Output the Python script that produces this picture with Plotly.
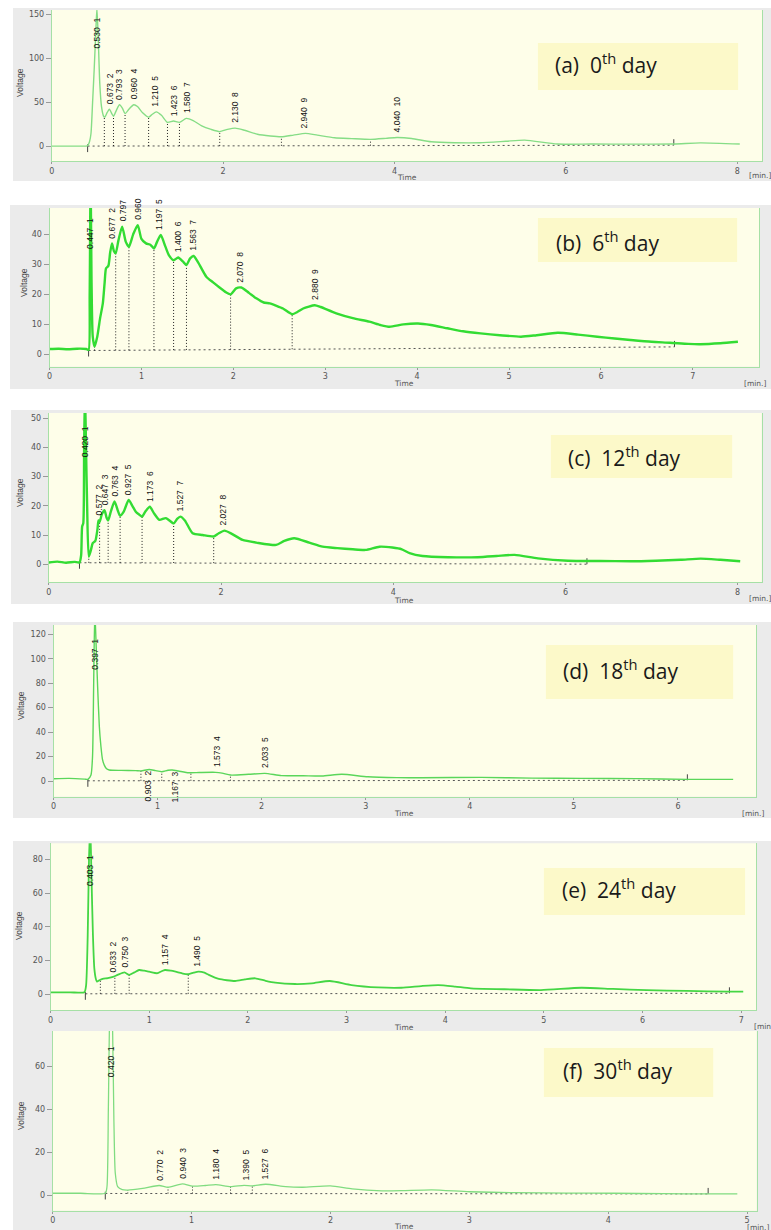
import numpy as np
import plotly.graph_objects as go

W, H = 771, 1230

# ================= DATA =================
# ---- (a) 0th day ----
a_curve = [(0.00, 0.0), (0.20, 0.0), (0.40, 0.0), (0.418, 0.5), (0.44, 5.0), (0.457, 14.0), (0.477, 52.0),
           (0.496, 90.0), (0.516, 136.0), (0.527, 157.0), (0.543, 120.0), (0.560, 71.0), (0.580, 45.0),
           (0.605, 34.0), (0.620, 33.0), (0.645, 38.0), (0.672, 42.0), (0.700, 37.0), (0.720, 34.0),
           (0.755, 41.0), (0.790, 47.0), (0.825, 43.0), (0.855, 37.0), (0.900, 42.0), (0.957, 47.0),
           (1.000, 45.0), (1.060, 38.0), (1.130, 33.0), (1.170, 36.0), (1.220, 39.0), (1.280, 35.0),
           (1.350, 27.0), (1.420, 28.5), (1.490, 27.0), (1.570, 31.5), (1.650, 29.0), (1.750, 23.0),
           (1.860, 19.0), (1.960, 16.5), (2.050, 19.0), (2.140, 20.5), (2.250, 18.0), (2.400, 13.5),
           (2.550, 11.5), (2.680, 10.6), (2.820, 12.5), (2.960, 14.5), (3.100, 12.5), (3.300, 9.5),
           (3.500, 8.5), (3.720, 7.6), (3.900, 8.8), (4.030, 9.8), (4.200, 8.7), (4.430, 4.9),
           (4.700, 3.8), (5.000, 3.8), (5.300, 5.5), (5.520, 6.8), (5.900, 2.3), (6.300, 2.3),
           (6.800, 2.2), (7.260, 2.3), (7.570, 3.6), (8.030, 2.3)]
a_valley_time = [0.613, 0.720, 0.855, 1.130, 1.350, 1.490, 1.960, 2.680, 3.720]
a_valley_volt = [33.0, 34.0, 37.0, 33.0, 27.0, 27.0, 16.5, 10.6, 7.6]
a_base_time = [0.418, 7.26]
a_base_volt = [0.0, 1.0]
a_peak_rt = [0.530, 0.673, 0.793, 0.960, 1.210, 1.423, 1.580, 2.130, 2.940, 4.040]
a_peak_volt = [None, 42.0, 47.0, 47.0, 39.0, 28.5, 31.5, 20.5, 14.5, 9.8]
a_peak_label = ["0.530  1", "0.673  2", "0.793  3", "0.960  4", "1.210  5", "1.423  6",
                "1.580  7", "2.130  8", "2.940  9", "4.040  10"]
a_xticks = [0, 2, 4, 6, 8]
a_yticks = [0, 50, 100, 150]

# ---- (b) 6th day ----
b_curve = [(0.00, 1.8), (0.10, 1.9), (0.20, 1.7), (0.30, 1.9), (0.40, 1.8), (0.425, 1.5), (0.437, 20.0),
           (0.447, 60.0), (0.457, 25.0), (0.470, 6.0), (0.490, 2.6), (0.520, 6.0), (0.550, 12.0),
           (0.580, 17.0), (0.600, 24.0), (0.615, 28.7), (0.640, 29.5), (0.660, 34.0), (0.680, 37.0),
           (0.700, 34.5), (0.720, 33.7), (0.750, 38.0), (0.790, 42.6), (0.830, 37.5), (0.864, 35.9),
           (0.910, 40.0), (0.960, 43.1), (1.000, 38.5), (1.050, 37.0), (1.100, 36.5), (1.136, 35.3),
           (1.170, 37.5), (1.210, 39.8), (1.260, 36.0), (1.300, 33.0), (1.350, 31.4), (1.400, 32.3),
           (1.450, 31.0), (1.490, 29.8), (1.530, 32.0), (1.568, 32.8), (1.620, 30.5), (1.706, 25.9),
           (1.780, 24.0), (1.850, 22.3), (1.920, 20.7), (1.970, 20.0), (2.030, 22.0), (2.087, 22.3),
           (2.170, 20.5), (2.250, 18.7), (2.330, 17.3), (2.396, 17.0), (2.470, 16.2), (2.540, 15.3),
           (2.640, 13.4), (2.700, 14.2), (2.760, 15.3), (2.886, 16.4), (2.950, 15.8), (3.120, 13.7),
           (3.300, 12.1), (3.480, 10.9), (3.600, 9.8), (3.700, 9.2), (3.850, 10.0), (4.010, 10.3),
           (4.150, 9.8), (4.330, 8.7), (4.500, 7.7), (4.690, 7.0), (4.900, 6.4), (5.130, 5.9),
           (5.300, 6.4), (5.530, 7.2), (5.750, 6.6), (5.960, 5.9), (6.150, 5.3), (6.320, 4.8),
           (6.550, 4.2), (6.750, 3.9), (6.950, 3.5), (7.080, 3.4), (7.300, 3.7), (7.490, 4.2)]
b_valley_time = [0.490, 0.720, 0.864, 1.136, 1.350, 1.490, 1.970, 2.640]
b_valley_volt = [2.6, 33.7, 35.9, 35.3, 31.4, 29.8, 20.0, 13.4]
b_base_time = [0.425, 6.80]
b_base_volt = [1.3, 2.5]
b_peak_rt = [0.447, 0.677, 0.797, 0.960, 1.197, 1.400, 1.563, 2.070, 2.880]
b_peak_volt = [None, 37.0, 42.6, 43.1, 39.8, 32.3, 32.8, 22.3, 16.4]
b_peak_label = ["0.447  1", "0.677  2", "0.797", "0.960", "1.197  5", "1.400  6",
                "1.563  7", "2.070  8", "2.880  9"]
b_xticks = [0, 1, 2, 3, 4, 5, 6, 7]
b_yticks = [0, 10, 20, 30, 40]

# ---- (c) 12th day ----
c_curve = [(0.00, 0.6), (0.10, 0.9), (0.20, 0.5), (0.30, 0.8), (0.356, 0.6), (0.375, 3.0), (0.387, 12.9),
           (0.400, 14.0), (0.410, 40.0), (0.420, 60.0), (0.432, 40.0), (0.445, 20.0), (0.464, 2.6),
           (0.490, 5.0), (0.510, 7.2), (0.540, 8.0), (0.565, 12.0), (0.577, 15.0), (0.590, 14.5),
           (0.615, 17.0), (0.647, 18.5), (0.670, 16.0), (0.689, 15.0), (0.720, 18.0), (0.763, 21.5),
           (0.800, 18.5), (0.828, 16.6), (0.870, 18.0), (0.927, 22.0), (0.970, 20.0), (1.010, 18.0),
           (1.050, 17.0), (1.083, 16.3), (1.120, 18.0), (1.173, 19.7), (1.220, 17.5), (1.284, 15.2),
           (1.360, 15.8), (1.450, 14.0), (1.490, 15.5), (1.527, 16.3), (1.580, 15.0), (1.670, 10.6),
           (1.787, 10.0), (1.915, 9.5), (1.970, 10.5), (2.040, 11.5), (2.120, 10.5), (2.250, 8.3),
           (2.410, 7.4), (2.640, 6.6), (2.735, 8.0), (2.850, 8.9), (3.025, 7.4), (3.180, 6.0),
           (3.350, 5.5), (3.530, 5.1), (3.680, 4.9), (3.840, 6.0), (3.990, 5.7), (4.100, 5.1),
           (4.190, 3.8), (4.340, 2.8), (4.640, 2.4), (4.980, 2.4), (5.200, 2.8), (5.410, 3.2),
           (5.680, 2.0), (6.030, 1.2), (6.400, 1.1), (6.760, 1.0), (7.050, 1.2), (7.340, 1.5),
           (7.570, 1.9), (7.800, 1.5), (8.030, 1.0)]
c_valley_time = [0.464, 0.590, 0.689, 0.828, 1.083, 1.450, 1.915]
c_valley_volt = [2.6, 14.5, 15.0, 16.6, 16.3, 14.0, 9.5]
c_base_time = [0.356, 6.25]
c_base_volt = [0.5, 0.0]
c_peak_rt = [0.420, 0.577, 0.647, 0.763, 0.927, 1.173, 1.527, 2.027]
c_peak_volt = [None, 15.0, 18.5, 21.5, 22.0, 19.7, 16.3, 11.5]
c_peak_label = ["0.420  1", "0.577  2", "0.647  3", "0.763  4", "0.927  5", "1.173  6",
                "1.527  7", "2.027  8"]
c_xticks = [0, 2, 4, 6, 8]
c_yticks = [0, 10, 20, 30, 40, 50]

# ---- (d) 18th day ----
d_curve = [(0.00, 1.9), (0.15, 2.2), (0.30, 1.6), (0.33, 1.4), (0.360, 5.0), (0.375, 20.0), (0.386, 80.0),
           (0.397, 140.0), (0.410, 110.0), (0.424, 77.0), (0.440, 45.0), (0.456, 28.0), (0.470, 18.0),
           (0.488, 13.0), (0.510, 10.0), (0.535, 9.0), (0.650, 8.7), (0.790, 8.5), (0.840, 8.3),
           (0.920, 9.5), (0.980, 8.5), (1.040, 7.6), (1.100, 8.8), (1.140, 9.0), (1.200, 8.2),
           (1.300, 6.8), (1.400, 7.0), (1.556, 7.1), (1.620, 6.5), (1.700, 4.9), (1.874, 5.5),
           (2.030, 6.3), (2.190, 4.4), (2.400, 4.3), (2.580, 4.1), (2.770, 5.5), (3.020, 3.5),
           (3.300, 2.8), (3.530, 2.7), (4.110, 3.0), (4.600, 2.4), (5.070, 2.2), (5.600, 2.0),
           (6.090, 1.4), (6.530, 1.4)]
d_valley_time = [0.840, 1.040, 1.320, 1.700]
d_valley_volt = [8.3, 7.6, 6.8, 4.9]
d_base_time = [0.33, 6.09]
d_base_volt = [0.2, 0.6]
d_peak_rt = [0.397, 0.903, 1.167, 1.573, 2.033]
d_peak_volt = [None, 9.5, 9.0, 7.1, 6.3]
d_peak_label = ["0.397  1", "0.903  2", "1.167  3", "1.573  4", "2.033  5"]
d_label_below = [False, True, True, False, False]
d_xticks = [0, 1, 2, 3, 4, 5, 6]
d_yticks = [0, 20, 40, 60, 80, 100, 120]

# ---- (e) 24th day ----
e_curve = [(0.00, 1.2), (0.20, 1.2), (0.343, 1.2), (0.360, 5.0), (0.377, 35.0), (0.390, 80.0),
           (0.403, 100.0), (0.415, 70.0), (0.430, 35.0), (0.444, 15.4), (0.460, 9.0), (0.470, 7.5),
           (0.500, 8.5), (0.528, 9.1), (0.580, 9.6), (0.633, 10.3), (0.680, 11.5), (0.750, 13.0),
           (0.797, 11.5), (0.850, 13.0), (0.898, 14.4), (0.950, 14.0), (1.000, 13.4), (1.083, 12.5),
           (1.120, 13.5), (1.160, 14.4), (1.220, 14.0), (1.268, 13.4), (1.330, 12.5), (1.396, 11.9),
           (1.450, 12.8), (1.500, 13.4), (1.560, 12.8), (1.604, 11.5), (1.705, 9.1), (1.870, 7.9),
           (1.970, 8.8), (2.075, 9.5), (2.180, 8.0), (2.277, 6.9), (2.480, 6.1), (2.647, 6.5),
           (2.830, 7.9), (3.050, 5.5), (3.320, 4.1), (3.555, 3.9), (3.757, 4.9), (3.930, 5.5),
           (4.100, 4.6), (4.260, 3.5), (4.600, 3.0), (4.970, 2.5), (5.380, 3.9), (5.700, 3.2),
           (6.040, 2.5), (6.450, 2.0), (6.880, 1.6), (7.020, 1.6)]
e_valley_time = [0.505, 0.652, 0.797, 1.396]
e_valley_volt = [8.5, 10.5, 11.5, 11.9]
e_base_time = [0.353, 6.88]
e_base_volt = [0.3, 0.6]
e_peak_rt = [0.403, 0.633, 0.750, 1.157, 1.490]
e_peak_volt = [None, 10.3, 13.0, 14.4, 13.4]
e_peak_label = ["0.403  1", "0.633  2", "0.750  3", "1.157  4", "1.490  5"]
e_xticks = [0, 1, 2, 3, 4, 5, 6, 7]
e_yticks = [0, 20, 40, 60, 80]

# ---- (f) 30th day ----
f_curve = [(0.00, 1.1), (0.20, 1.1), (0.378, 1.1), (0.390, 4.0), (0.400, 40.0), (0.410, 85.0),
           (0.420, 95.0), (0.430, 80.0), (0.440, 35.0), (0.450, 10.4), (0.467, 4.2), (0.500, 2.8),
           (0.540, 2.6), (0.647, 3.4), (0.766, 4.7), (0.830, 3.9), (0.934, 5.5), (1.006, 4.4),
           (1.100, 4.7), (1.174, 5.1), (1.280, 4.2), (1.377, 4.8), (1.437, 4.5), (1.533, 5.3),
           (1.677, 4.2), (1.800, 3.9), (2.000, 4.5), (2.156, 3.1), (2.370, 2.2), (2.515, 2.3),
           (2.730, 2.7), (3.000, 1.8), (3.320, 1.4), (3.700, 1.2), (4.040, 1.1), (4.400, 0.9),
           (4.720, 0.8), (4.930, 0.8)]
f_valley_time = [0.540, 0.830, 1.006, 1.280, 1.437]
f_valley_volt = [2.6, 3.9, 4.4, 4.2, 4.5]
f_base_time = [0.378, 4.72]
f_base_volt = [1.0, 0.8]
f_peak_rt = [0.420, 0.770, 0.940, 1.180, 1.390, 1.527]
f_peak_volt = [None, 4.7, 5.5, 5.1, 4.8, 5.3]
f_peak_label = ["0.420  1", "0.770  2", "0.940  3", "1.180  4", "1.390  5", "1.527  6"]
f_xticks = [0, 1, 2, 3, 4, 5]
f_yticks = [0, 20, 40, 60]

panel_titles = ["(a)  0<sup>th</sup> day", "(b)  6<sup>th</sup> day", "(c)  12<sup>th</sup> day",
                "(d)  18<sup>th</sup> day", "(e)  24<sup>th</sup> day", "(f)  30<sup>th</sup> day"]

# ================= LAYOUT (pixel geometry) =================
panels = [
    dict(curve=a_curve, vt=a_valley_time, vv=a_valley_volt, bt=a_base_time, bv=a_base_volt,
         prt=a_peak_rt, pv=a_peak_volt, pl=a_peak_label, below=None, xt=a_xticks, yt=a_yticks,
         xr=[0, 8.29], yr=[-17, 155], color="#86dd86", lw=1.4,
         plot=(49, 10, 762, 161), grey=(10, 8, 771, 181), box=(537, 43, 738, 90), text=(552, 63),
         volt=(17, 82), time=(406, 177), mn=(747, 175)),
    dict(curve=b_curve, vt=b_valley_time, vv=b_valley_volt, bt=b_base_time, bv=b_base_volt,
         prt=b_peak_rt, pv=b_peak_volt, pl=b_peak_label, below=None, xt=b_xticks, yt=b_yticks,
         xr=[0, 7.72], yr=[-4.1, 48.8], color="#33dc33", lw=2.4,
         plot=(46.7, 208, 759, 366.7), grey=(7, 205, 771, 389), box=(537, 218, 737, 262), text=(553, 241),
         volt=(21, 282), time=(403, 383), mn=(742, 383)),
    dict(curve=c_curve, vt=c_valley_time, vv=c_valley_volt, bt=c_base_time, bv=c_base_volt,
         prt=c_peak_rt, pv=c_peak_volt, pl=c_peak_label, below=None, xt=c_xticks, yt=c_yticks,
         xr=[0, 8.28], yr=[-6.2, 51.8], color="#33dc33", lw=2.4,
         plot=(46, 413, 761.7, 582.3), grey=(8, 410, 771, 604), box=(550, 435, 732, 478), text=(565, 456),
         volt=(17, 492), time=(403, 600), mn=(747, 598)),
    dict(curve=d_curve, vt=d_valley_time, vv=d_valley_volt, bt=d_base_time, bv=d_base_volt,
         prt=d_peak_rt, pv=d_peak_volt, pl=d_peak_label, below=d_label_below, xt=d_xticks, yt=d_yticks,
         xr=[0, 6.75], yr=[-12.8, 127.6], color="#5ad65a", lw=1.4,
         plot=(50.7, 625, 756, 796.7), grey=(10, 622, 771, 818), box=(545, 645, 733, 699), text=(560, 669),
         volt=(18, 705), time=(403, 813), mn=(740, 813)),
    dict(curve=e_curve, vt=e_valley_time, vv=e_valley_volt, bt=e_base_time, bv=e_base_volt,
         prt=e_peak_rt, pv=e_peak_volt, pl=e_peak_label, below=None, xt=e_xticks, yt=e_yticks,
         xr=[0, 7.15], yr=[-9.3, 89.5], color="#44d644", lw=1.8,
         plot=(47.7, 843.3, 756, 1010), grey=(10, 841, 771, 1031), box=(543, 868, 745, 915), text=(559, 888),
         volt=(16, 925), time=(403, 1027), mn=(752, 1026)),
    dict(curve=f_curve, vt=f_valley_time, vv=f_valley_volt, bt=f_base_time, bv=f_base_volt,
         prt=f_peak_rt, pv=f_peak_volt, pl=f_peak_label, below=None, xt=f_xticks, yt=f_yticks,
         xr=[0, 5.07], yr=[-7, 76.5], color="#80dc80", lw=1.3,
         plot=(50, 1031, 756.7, 1210.7), grey=(10, 1031, 771, 1230), box=(543, 1048, 713, 1097), text=(560, 1069),
         volt=(18, 1115), time=(403, 1226), mn=(745, 1227.5)),
]

NARROW = "Liberation Sans Narrow, Arial Narrow, Liberation Sans, sans-serif"
TICKF = dict(family="DejaVu Sans", size=8, color="#555555")

fig = go.Figure()
shapes, annotations, layout_axes = [], [], {}


def px_x(px):
    return px / W


def px_y(py):
    return 1 - py / H


for i, p in enumerate(panels):
    n = "" if i == 0 else str(i + 1)
    xa, ya = "x" + n, "y" + n
    x0, y0, x1, y1 = p["plot"]
    ppu = (y1 - y0) / (p["yr"][1] - p["yr"][0])  # pixels per voltage unit

    layout_axes["xaxis" + n] = dict(
        domain=[px_x(x0), px_x(x1)], range=p["xr"], anchor=ya, tickvals=p["xt"],
        ticks="outside", ticklen=2, tickcolor="#999999", tickfont=TICKF,
        showline=True, linecolor="#a6e0a6", linewidth=1, mirror=False,
        showgrid=False, zeroline=False, fixedrange=True)
    layout_axes["yaxis" + n] = dict(
        domain=[px_y(y1), px_y(y0)], range=p["yr"], anchor=xa, tickvals=p["yt"],
        ticks="outside", ticklen=5, tickcolor="#999999", tickfont=TICKF,
        showline=True, linecolor="#a6e0a6", linewidth=1, mirror=True,
        showgrid=False, zeroline=False, fixedrange=True)

    gx0, gy0, gx1, gy1 = p["grey"]
    shapes.append(dict(type="rect", xref="paper", yref="paper", x0=px_x(gx0), x1=px_x(gx1),
                       y0=px_y(gy1), y1=px_y(gy0), fillcolor="#ebebeb", line=dict(width=0), layer="below"))
    shapes.append(dict(type="rect", xref=xa + " domain", yref=ya + " domain", x0=0, x1=1, y0=0, y1=1,
                       fillcolor="#fefee9", line=dict(width=0), layer="below"))
    bx0, by0, bx1, by1 = p["box"]
    shapes.append(dict(type="rect", xref="paper", yref="paper", x0=px_x(bx0), x1=px_x(bx1),
                       y0=px_y(by1), y1=px_y(by0), fillcolor="#fcf9c9", line=dict(width=0), layer="below"))

    # baseline (dashed)
    fig.add_trace(go.Scatter(x=p["bt"], y=p["bv"], xaxis=xa, yaxis=ya, mode="lines",
                             line=dict(color="#555555", width=1, dash="2px,3px"),
                             hoverinfo="skip", showlegend=False))
    # drop lines from baseline to valley
    bl = np.interp(p["vt"], p["bt"], p["bv"])
    xs, ys = [], []
    for t, b0, v in zip(p["vt"], bl, p["vv"]):
        xs += [t, t, None]
        ys += [b0, v, None]
    fig.add_trace(go.Scatter(x=xs, y=ys, xaxis=xa, yaxis=ya, mode="lines",
                             line=dict(color="#222222", width=1, dash="1px,2px"),
                             hoverinfo="skip", showlegend=False))
    # start / end integration marks
    tl = 6 / ppu
    mx = [p["bt"][0], p["bt"][0], None, p["bt"][-1], p["bt"][-1]]
    my = [p["bv"][0] - tl, p["bv"][0] + tl * 0.3, None, p["bv"][-1], p["bv"][-1] + tl]
    fig.add_trace(go.Scatter(x=mx, y=my, xaxis=xa, yaxis=ya, mode="lines",
                             line=dict(color="#444444", width=1),
                             hoverinfo="skip", showlegend=False))
    # chromatogram
    ct = [c[0] for c in p["curve"]]
    cv = [c[1] for c in p["curve"]]
    fig.add_trace(go.Scatter(x=ct, y=cv, xaxis=xa, yaxis=ya, mode="lines",
                             line=dict(color=p["color"], width=p["lw"], shape="spline", smoothing=0.6),
                             hoverinfo="skip", showlegend=False))

    # peak labels
    for k, (rt, pv, lab) in enumerate(zip(p["prt"], p["pv"], p["pl"])):
        txt = lab.replace(" ", "\u00a0")
        common = dict(x=rt, xref=xa, text=txt, textangle=-90, showarrow=False,
                      font=dict(family=NARROW, size=8.5, color="#111111"), xanchor="center")
        if pv is None:
            annotations.append(dict(y=0.73, yref=ya + " domain", yanchor="bottom", **common))
        elif p["below"] is not None and p["below"][k]:
            annotations.append(dict(y=pv, yref=ya, yanchor="top", yshift=1, **common))
        else:
            annotations.append(dict(y=pv, yref=ya, yanchor="bottom", yshift=3, **common))

    # panel title
    tx, ty = p["text"]
    annotations.append(dict(x=px_x(tx), y=px_y(ty), xref="paper", yref="paper", xanchor="left",
                            yanchor="middle", text=panel_titles[i], showarrow=False,
                            font=dict(family="Open Sans, Noto Sans, sans-serif", size=21, color="#1a1a1a")))
    # axis captions
    vx, vy = p["volt"]
    annotations.append(dict(x=px_x(vx), y=px_y(vy), xref="paper", yref="paper", text="Voltage",
                            textangle=-90, showarrow=False, xanchor="center", yanchor="middle",
                            font=dict(family=NARROW, size=8.5, color="#444444")))
    tmx, tmy = p["time"]
    annotations.append(dict(x=px_x(tmx), y=px_y(tmy), xref="paper", yref="paper", text="Time",
                            showarrow=False, xanchor="center", yanchor="middle",
                            font=dict(family="DejaVu Sans", size=7.5, color="#555555")))
    mnx, mny = p["mn"]
    annotations.append(dict(x=px_x(mnx), y=px_y(mny), xref="paper", yref="paper", text="[min.]",
                            showarrow=False, xanchor="left", yanchor="middle",
                            font=dict(family="DejaVu Sans", size=7.5, color="#555555")))

fig.update_layout(
    width=W, height=H, margin=dict(l=0, r=0, t=0, b=0),
    paper_bgcolor="white", plot_bgcolor="#fefee9", showlegend=False,
    shapes=shapes, annotations=annotations, **layout_axes)

fig.write_html("out.html", config={"displayModeBar": False},
               post_script="document.body.style.margin='0px';document.body.style.padding='0px';"
                           "document.body.style.overflow='hidden';")
